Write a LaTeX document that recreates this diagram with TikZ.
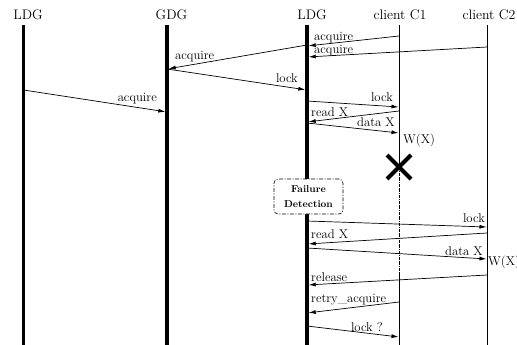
\documentclass[tikz,border=0pt]{standalone}
\usetikzlibrary{arrows.meta,shapes.misc}
\begin{document}
\begin{tikzpicture}[x=1pt, y=-1pt,
    titulo/.style={anchor=base, inner sep=0pt, font=\fontsize{13.8}{16}\selectfont},
    rotulo/.style={inner sep=0pt, font=\fontsize{12.7}{15}\selectfont},
    msg/.style={line width=0.7pt, -{Latex[length=7pt,width=4pt]}, shorten >=0.5pt},
    ateGrossa/.style={shorten >=1.7pt},
    grossa/.style={line width=3.3pt},
    fina/.style={line width=0.9pt},
    falhaBox/.style={draw, fill=white, rounded corners=4pt, line width=0.6pt,
        dash pattern=on 4pt off 1.5pt on 1pt off 1.5pt, align=center, inner sep=0pt,
        minimum width=69pt, minimum height=35pt,
        font=\fontsize{10}{15}\selectfont\bfseries}]
    \useasboundingbox (0,0) rectangle (517,345);
    % Titulos
    \node[titulo] (tLdgA) at (28,20) {LDG};
    \node[titulo] (tGdg) at (171.5,20) {GDG};
    \node[titulo] (tLdgB) at (312,20) {LDG};
    \node[titulo] (tCliA) at (400,20) {client C1};
    \node[titulo] (tCliB) at (489,20) {client C2};
    % Linhas de vida
    \coordinate (ldgA) at (23.5,25);
    \coordinate (gdg) at (167,25);
    \coordinate (ldgB) at (307,25);
    \coordinate (cliA) at (399,25);
    \coordinate (cliB) at (487,25);
    \draw[grossa] (ldgA) -- (ldgA |- 0,345);
    \draw[grossa] (gdg) -- (gdg |- 0,345);
    \draw[grossa] (ldgB) -- (ldgB |- 0,345);
    \draw[fina] (cliA) -- (cliA |- 0,167);
    \draw[line width=0.6pt, dash pattern=on 3pt off 1pt on 0.6pt off 1pt] (cliA |- 0,167) -- (cliA |- 0,272); % cliente parado
    \draw[fina] (cliA |- 0,272) -- (cliA |- 0,345);
    \draw[fina] (cliB) -- (cliB |- 0,345);
    % Mensagens
    \draw[msg, ateGrossa] (cliA |- 0,36) -- (ldgB |- 0,46);
    \node[rotulo, anchor=base west] (mAcqA) at (314,41) {acquire};
    \draw[msg, ateGrossa] (cliB |- 0,47) -- (ldgB |- 0,57);
    \node[rotulo, anchor=base west] (mAcqB) at (314,54) {acquire};
    \draw[msg, ateGrossa] (ldgB |- 0,45) -- (gdg |- 0,69);
    \node[rotulo, anchor=base west] (mAcqC) at (175,60) {acquire};
    \draw[msg, ateGrossa] (gdg |- 0,69) -- (ldgB |- 0,90);
    \node[rotulo, anchor=base east] (mLockA) at (298,83) {lock};
    \draw[msg, ateGrossa] (ldgA |- 0,90) -- (gdg |- 0,112);
    \node[rotulo, anchor=base east] (mAcqD) at (157,102) {acquire};
    \draw[msg] (ldgB |- 0,101) -- (cliA |- 0,107);
    \node[rotulo, anchor=base east] (mLockB) at (393,102) {lock};
    \draw[msg, ateGrossa] (cliA |- 0,111) -- (ldgB |- 0,122);
    \node[rotulo, anchor=base west] (mReadA) at (311,116) {read X};
    \draw[msg] (ldgB |- 0,123) -- (cliA |- 0,133);
    \node[rotulo, anchor=base east] (mDataA) at (395,126) {data X};
    \node[rotulo, anchor=base west] (mWA) at (403,143) {W(X)};
    % Falha do cliente C1
    \node[draw, cross out, line width=4pt, minimum size=20pt, inner sep=0pt] (falha) at (cliA |- 0,167) {};
    \node[falhaBox] (deteccao) at (308.5,196.5) {Failure\\Detection};
    \draw[msg] (ldgB |- 0,221) -- (cliB |- 0,227);
    \node[rotulo, anchor=base east] (mLockC) at (485,222) {lock};
    \draw[msg, ateGrossa] (cliB |- 0,233) -- (ldgB |- 0,244);
    \node[rotulo, anchor=base west] (mReadB) at (311,238) {read X};
    \draw[msg] (ldgB |- 0,248) -- (cliB |- 0,259);
    \node[rotulo, anchor=base east] (mDataB) at (483,255) {data X};
    \node[rotulo, anchor=base west] (mWB) at (488,265) {W(X)};
    \draw[msg, ateGrossa] (cliB |- 0,275) -- (ldgB |- 0,285);
    \node[rotulo, anchor=base west] (mRel) at (311,281) {release};
    \draw[msg, ateGrossa] (cliA |- 0,302) -- (ldgB |- 0,313);
    \node[rotulo, anchor=base west] (mRetry) at (311,302) {retry\_acquire};
    \draw[msg] (ldgB |- 0,326) -- (cliA |- 0,337);
    \node[rotulo, anchor=base east] (mLockD) at (383,331) {lock ?};
\end{tikzpicture}
\end{document}
